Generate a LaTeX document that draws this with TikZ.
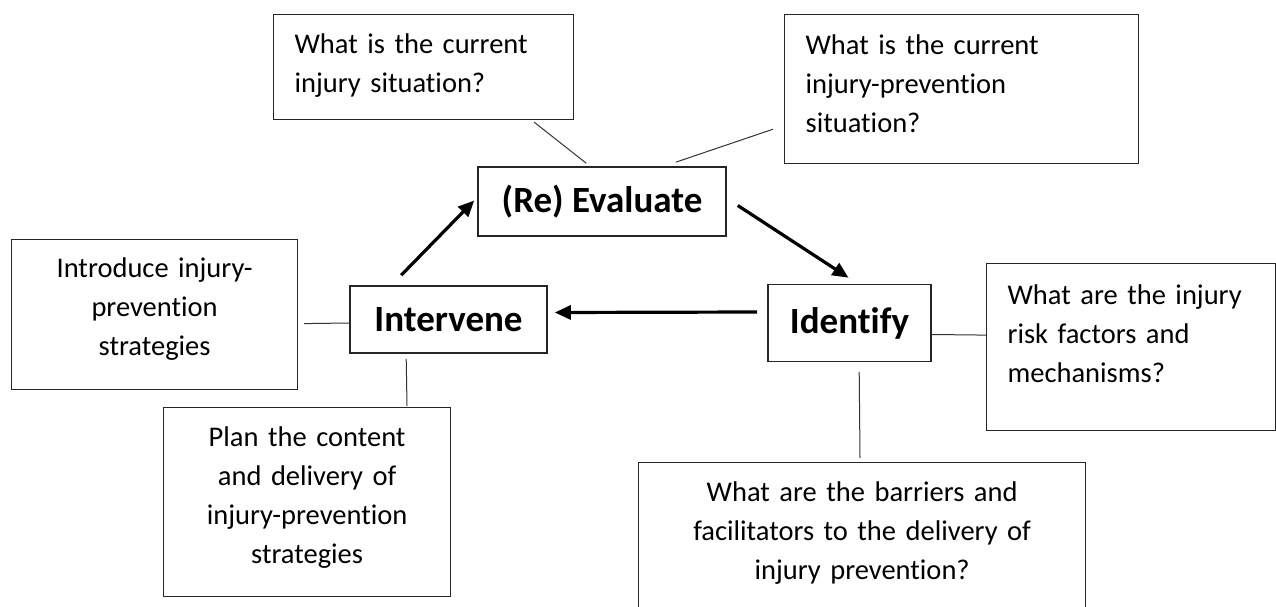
\documentclass[tikz,border=0pt]{standalone}
\usepackage{fontspec}
\setmainfont{Carlito}[Ligatures=NoCommon]
\usepackage{tikz}
\usetikzlibrary{arrows.meta,calc}

\tikzset{
  stage/.style={draw=black!85, line width=1.6pt, inner sep=0pt,
    font=\fontsize{37}{44}\selectfont\bfseries},
  question/.style={draw=black!85, line width=1.2pt, anchor=north west,
    inner xsep=21pt, inner ysep=0pt, font=\fontsize{28.5}{39}\selectfont},
  leftq/.style={question, execute at begin node=\raggedright},
  centreq/.style={question, execute at begin node=\centering},
  flow/.style={line width=3.2pt, -{Triangle[length=16pt,width=14pt]}},
  link/.style={line width=1pt, black!80}
}

\begin{document}
\begin{tikzpicture}[x=1pt, y=-1pt]
    \useasboundingbox (0,0) rectangle (1276,607);
    % Stages of the cycle
    \node[stage, minimum width=248pt, minimum height=69pt] (evaluate) at (602,201.5) {(Re) Evaluate};
    \node[stage, minimum width=197pt, minimum height=67pt] (intervene) at (448.5,319.5) {Intervene};
    \node[stage, minimum width=163pt, minimum height=77pt] (identify) at (849.5,323) {Identify};
    % Questions
    \node[leftq, text width=258pt, text height=39pt, text depth=66pt] (q1) at (273,14)
        {What is the current\\injury situation?};
    \node[leftq, text width=312pt, text height=40pt, text depth=109pt] (q2) at (784,14)
        {What is the current\\injury-prevention\\situation?};
    \node[leftq, text width=247pt, text height=41pt, text depth=126pt] (q3) at (986,263)
        {What are the injury\\risk factors and\\mechanisms?};
    \node[centreq, text width=244pt, text height=38pt, text depth=112pt] (q4) at (11,239)
        {Introduce injury-\\prevention\\strategies};
    \node[centreq, text width=405pt, text height=39pt, text depth=160pt] (q5) at (638,462)
        {What are the barriers and\\facilitators to the delivery of\\injury prevention?};
    \node[centreq, text width=245pt, text height=39pt, text depth=150pt] (q6) at (163,407)
        {Plan the content\\and delivery of\\injury-prevention\\strategies};
    % Cycle arrows
    \draw[flow] ($(intervene.north west)+(52,-10)$) -- ($(evaluate.west)+(-3,-1)$);
    \draw[flow] ($(evaluate.east)+(11,4)$) -- ($(identify.north)+(-1,-6)$);
    \draw[flow] ($(identify.west)+(-10,-11)$) -- ($(intervene.east)+(7,-7)$);
    % Links to the questions
    \draw[link] ($(q1.south east)+(-40,2)$) -- ($(evaluate.north west)+(109,-3)$);
    \draw[link] ($(evaluate.north east)+(-51,-4)$) -- ($(q2.south west)+(-11,-35)$);
    \draw[link] ($(q4.east)+(6,9)$) -- ($(intervene.west)+(0,3.5)$);
    \draw[link] ($(intervene.south west)+(57,5)$) -- ($(q6.north west)+(244,-1)$);
    \draw[link] ($(identify.east)+(0,11.5)$) -- ($(q3.west)+(0,-12)$);
    \draw[link] ($(identify.south west)+(92,9.5)$) -- ($(q5.north west)+(222,-4)$);
\end{tikzpicture}
\end{document}
